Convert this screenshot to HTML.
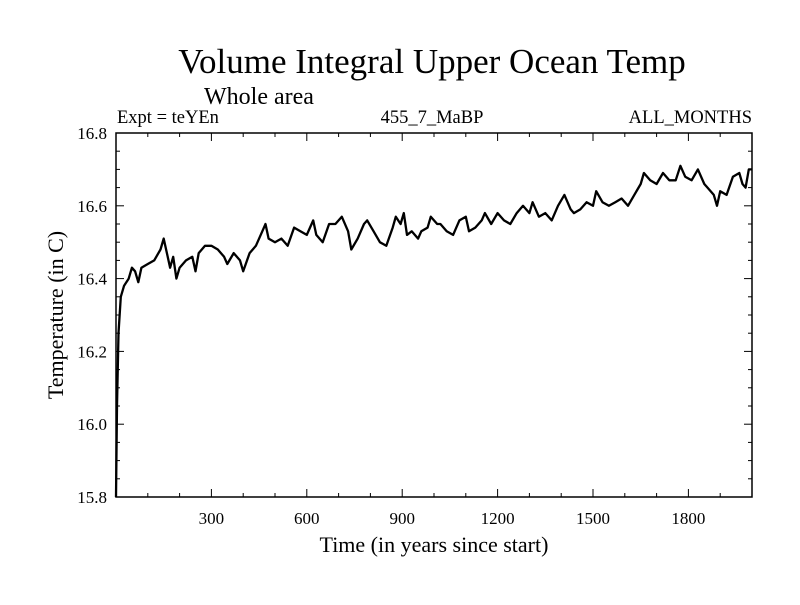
<!DOCTYPE html>
<html><head><meta charset="utf-8"><style>
body{margin:0;background:#fff;}
svg text{font-family:"Liberation Serif",serif;fill:#000;}
</style></head><body>
<svg id="chart" width="800" height="600" xmlns="http://www.w3.org/2000/svg">
<text x="432" y="73" font-size="35" text-anchor="middle">Volume Integral Upper Ocean Temp</text>
<text x="204" y="104" font-size="24">Whole area</text>
<text x="117" y="123" font-size="18.5">Expt = teYEn</text>
<text x="432" y="123" font-size="18.5" text-anchor="middle">455_7_MaBP</text>
<text x="752" y="123" font-size="18.5" text-anchor="end">ALL_MONTHS</text>
<text x="0" y="0" font-size="22" text-anchor="middle" transform="translate(63,315) rotate(-90)">Temperature (in C)</text>
<text x="434" y="552" font-size="22" text-anchor="middle">Time (in years since start)</text>
<g id="axes"></g>
<path id="series" fill="none" stroke="#000" stroke-width="2.3" stroke-linejoin="round"/>
<rect x="116" y="133" width="636" height="364" fill="none" stroke="#000" stroke-width="1.5"/>
</svg>
<script>
const years=[0,3,8,15,25,40,50,60,70,80,100,120,140,150,160,170,180,190,200,220,240,250,260,280,300,320,340,350,370,390,400,420,440,460,470,480,500,520,540,560,580,600,620,630,650,670,690,710,730,740,760,780,790,810,830,850,870,880,895,905,915,930,950,960,980,990,1010,1020,1040,1060,1080,1100,1110,1130,1150,1160,1180,1200,1220,1240,1260,1280,1300,1310,1330,1350,1370,1390,1410,1430,1440,1460,1480,1500,1510,1530,1550,1570,1590,1610,1630,1650,1660,1680,1700,1720,1740,1760,1775,1790,1810,1830,1850,1860,1880,1890,1900,1920,1940,1960,1970,1980,1990,2000];
const temps=[15.8,16.05,16.25,16.35,16.38,16.40,16.43,16.42,16.39,16.43,16.44,16.45,16.48,16.51,16.47,16.43,16.46,16.40,16.43,16.45,16.46,16.42,16.47,16.49,16.49,16.48,16.46,16.44,16.47,16.45,16.42,16.47,16.49,16.53,16.55,16.51,16.50,16.51,16.49,16.54,16.53,16.52,16.56,16.52,16.50,16.55,16.55,16.57,16.53,16.48,16.51,16.55,16.56,16.53,16.50,16.49,16.54,16.57,16.55,16.58,16.52,16.53,16.51,16.53,16.54,16.57,16.55,16.55,16.53,16.52,16.56,16.57,16.53,16.54,16.56,16.58,16.55,16.58,16.56,16.55,16.58,16.60,16.58,16.61,16.57,16.58,16.56,16.60,16.63,16.59,16.58,16.59,16.61,16.60,16.64,16.61,16.60,16.61,16.62,16.60,16.63,16.66,16.69,16.67,16.66,16.69,16.67,16.67,16.71,16.68,16.67,16.70,16.66,16.65,16.63,16.60,16.64,16.63,16.68,16.69,16.66,16.65,16.70,16.70];
const xTicks=[300,600,900,1200,1500,1800];
const yTicks=[15.8,16.0,16.2,16.4,16.6,16.8];
const X0=116,X1=752,Y0=497,Y1=133;
const xs=v=>X0+(v-0)/(2000-0)*(X1-X0);
const ys=v=>Y0-(v-15.8)/(16.8-15.8)*(Y0-Y1);
const NS="http://www.w3.org/2000/svg";
const ax=document.getElementById('axes');
function line(x1,y1,x2,y2,name){const l=document.createElementNS(NS,'line');
l.setAttribute('x1',x1);l.setAttribute('y1',y1);l.setAttribute('x2',x2);l.setAttribute('y2',y2);l.setAttribute('stroke','#000');l.setAttribute('stroke-width','1');


ax.appendChild(l);}
for(let v=100;v<2000;v+=100){const x=xs(v),L=(v%300===0)?8:4;line(x,Y0,x,Y0-L,'x-tick');line(x,Y1,x,Y1+L,'x-tick-top');}
for(let v=15.85;v<16.8;v+=0.05){const y=ys(v),maj=Math.abs(Math.round(v*10)/10-v)<0.001&&Math.round(v*10)%2===0,L=maj?8:4;line(X0,y,X0+L,y,'y-tick');line(X1,y,X1-L,y,'y-tick-right');}
xTicks.forEach(v=>{const t=document.createElementNS(NS,'text');t.setAttribute('x',xs(v));t.setAttribute('y',524);t.setAttribute('font-size','17');t.setAttribute('text-anchor','middle');t.textContent=v;


document.getElementById('chart').appendChild(t);});
yTicks.forEach(v=>{const t=document.createElementNS(NS,'text');t.setAttribute('x',107);t.setAttribute('y',ys(v)+6);t.setAttribute('font-size','17');t.setAttribute('text-anchor','end');t.textContent=v.toFixed(1);


document.getElementById('chart').appendChild(t);});
document.getElementById('series').setAttribute('d',years.map((y,i)=>(i?'L':'M')+xs(y).toFixed(1)+','+ys(temps[i]).toFixed(1)).join(''));
</script>
</body></html>
